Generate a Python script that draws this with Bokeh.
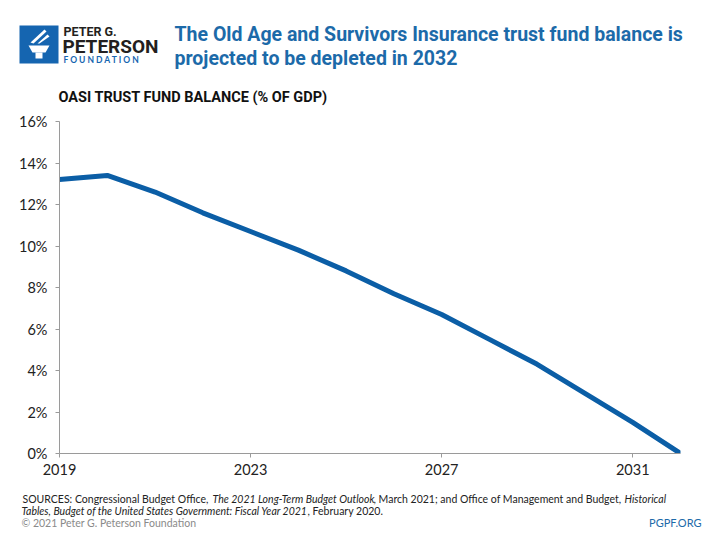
from bokeh.plotting import figure
from bokeh.layouts import column
from bokeh.models import (Range1d, FixedTicker, PrintfTickFormatter, Label,
                          BoxAnnotation, PolyAnnotation)
from bokeh.embed import file_html
from bokeh.resources import INLINE

# ---- data ----
years = [2019, 2020, 2021, 2022, 2023, 2024, 2025, 2026, 2027, 2028, 2029, 2030, 2031, 2032]
balance_pct = [13.2, 13.4, 12.6, 11.6, 10.7, 9.8, 8.8, 7.7, 6.7, 5.5, 4.3, 2.9, 1.5, 0.0]
x_ticks = [2019, 2023, 2027, 2031]
y_ticks = [0, 2, 4, 6, 8, 10, 12, 14, 16]

title_lines = ["The Old Age and Survivors Insurance trust fund balance is",
               "projected to be depleted in 2032"]
subtitle = "OASI TRUST FUND BALANCE (% OF GDP)"

W = 712
HEAD_H, MAIN_TOP, MAIN_BOT, TOTAL_H = 110, 110, 485, 532
FL, FR, FT, FB = 59, 680, 121, 453
BLUE = "#1c6aa9"
LINE = "#0b5ea6"
HEAD_FONT = "Roboto"


def blank(h, y0):
    f = figure(width=W, height=h, output_backend="svg", toolbar_location=None,
               x_range=Range1d(0, W), y_range=Range1d(y0 + h, y0),
               min_border=0, x_axis_location=None, y_axis_location=None,
               frame_align=False)
    f.outline_line_color = None
    f.xgrid.grid_line_color = None
    f.ygrid.grid_line_color = None
    f.background_fill_color = "white"
    f.border_fill_color = "white"
    return f


def lab(f, xp, yp, text, size, color="#222222", font="Lato", style="normal",
        align="left", baseline="middle"):
    f.add_layout(Label(x=xp, y=yp, text=text, text_font=font,
                       text_font_size=size, text_color=color,
                       text_font_style=style, text_align=align,
                       text_baseline=baseline))


def poly(f, xs, ys, color="white"):
    f.add_layout(PolyAnnotation(xs=xs, ys=ys, fill_color=color, fill_alpha=1,
                                line_color=None))


# ---- header ----
head = blank(HEAD_H, 0)
head.add_layout(BoxAnnotation(left=19, right=58, top=25, bottom=63,
                              fill_color="#1565b0", fill_alpha=1, line_color=None))
poly(head, [28, 49, 45, 32], [45, 45, 52, 52])
poly(head, [35, 42, 42, 35], [52, 52, 58, 58])
poly(head, [30, 44, 46, 33], [42, 29, 31, 43])
poly(head, [37, 47, 49, 39], [43, 34, 36, 43])
lab(head, 63, 31, "PETER G.", "12.5px", "#231f20", HEAD_FONT, "bold")
lab(head, 62, 46, "PETERSON", "19px", "#231f20", HEAD_FONT, "bold")
lab(head, 63, 59, "F  O  U  N  D  A  T  I  O  N", "8.5px", "#1565b0", "Lato", "bold")
lab(head, 174, 34, title_lines[0], "19.5px", BLUE, HEAD_FONT, "bold")
lab(head, 174, 58, title_lines[1], "19.5px", BLUE, HEAD_FONT, "bold")
lab(head, 58, 97, subtitle, "14.5px", "#111111", HEAD_FONT, "bold")

# ---- main chart ----
main_h = MAIN_BOT - MAIN_TOP
p = figure(width=W, height=main_h, output_backend="svg", toolbar_location=None,
           x_range=Range1d(2019, 2032), y_range=Range1d(0, 16),
           min_border_left=FL, min_border_right=W - FR,
           min_border_top=FT - MAIN_TOP, min_border_bottom=MAIN_BOT - FB,
           frame_align=False)
p.outline_line_color = None
p.xgrid.grid_line_color = None
p.ygrid.grid_line_color = None
p.background_fill_color = "white"
p.border_fill_color = "white"

p.line(years, balance_pct, line_width=5, line_color=LINE)

for ax in (p.xaxis, p.yaxis):
    ax.axis_line_color = "#9a9a9a"
    ax.major_tick_line_color = "#9a9a9a"
    ax.major_tick_in = 0
    ax.major_tick_out = 4
    ax.minor_tick_line_color = None
    ax.major_label_text_font = "Lato"
    ax.major_label_text_font_size = "14.5px"
    ax.major_label_text_color = "#222222"
p.xaxis.ticker = FixedTicker(ticks=x_ticks)
p.yaxis.ticker = FixedTicker(ticks=y_ticks)
p.yaxis.formatter = PrintfTickFormatter(format="%d%%")
p.xaxis.major_label_standoff = 6
p.yaxis.major_label_standoff = 8

# ---- footer ----
foot = blank(TOTAL_H - MAIN_BOT, MAIN_BOT)
fs = "10.5px"
lab(foot, 22, 498, "SOURCES: Congressional Budget Office,", fs)
lab(foot, 212, 498, "The 2021 Long-Term Budget Outlook", fs, style="italic")
lab(foot, 373, 498, ", March 2021; and Office of Management and Budget,", fs)
lab(foot, 624, 498, "Historical", fs, style="italic")
lab(foot, 21, 510, "Tables, Budget of the United States Government: Fiscal Year 2021", fs, style="italic")
lab(foot, 307, 510, ", February 2020.", fs)
lab(foot, 21, 522, "\u00a9 2021 Peter G. Peterson Foundation", fs, color="#8a8a8a")
lab(foot, 701, 522, "PGPF.ORG", "11px", color=BLUE, align="right")

layout = column(head, p, foot, spacing=0)
open("out.html", "w").write(file_html(layout, INLINE))
